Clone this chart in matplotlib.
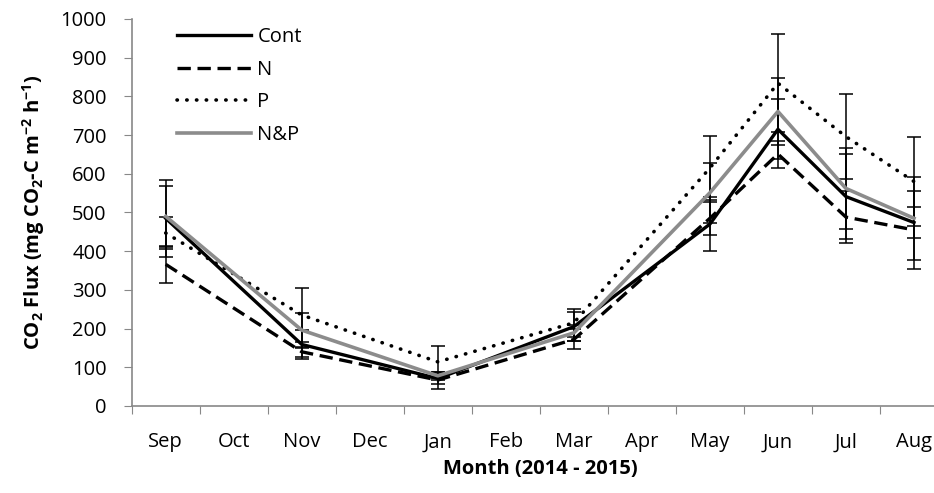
import numpy as np
import matplotlib
matplotlib.use('Agg')
import matplotlib.pyplot as plt

months = ['Sep', 'Oct', 'Nov', 'Dec', 'Jan', 'Feb', 'Mar', 'Apr', 'May', 'Jun', 'Jul', 'Aug']
# sampled months (index into months)
sampled = ['Sep', 'Nov', 'Jan', 'Mar', 'May', 'Jun', 'Jul', 'Aug']

cont = [485, 159, 71, 205, 470, 715, 541, 474]
cont_err = [100, 38, 15, 38, 70, 78, 109, 41]
n_trt = [366, 140, 67, 172, 485, 651, 488, 455]
n_err = [47, 13, 22, 26, 43, 35, 68, 100]
p_trt = [447, 235, 114, 215, 615, 834, 696, 580]
p_err = [41, 69, 42, 36, 83, 127, 109, 114]
np_trt = [490, 196, 78, 189, 551, 761, 562, 485]
np_err = [78, 45, 11, 20, 78, 86, 104, 107]

plt.rcParams['font.family'] = ['Open Sans', 'DejaVu Sans']
plt.rcParams['mathtext.fontset'] = 'custom'
plt.rcParams['mathtext.rm'] = 'Open Sans:bold'
plt.rcParams['mathtext.default'] = 'rm'

fig = plt.figure(figsize=(9.34, 4.93), dpi=100)
ax = fig.add_axes([0.141, 0.1765, 0.874, 0.785])

x = np.array([months.index(m) for m in sampled])

series = [
    ('Cont', cont, cont_err, dict(color='black', ls='-', lw=2.4)),
    ('N', n_trt, n_err, dict(color='black', ls=(0, (4, 2)), lw=2.4)),
    ('P', p_trt, p_err, dict(color='black', ls=(0, (0.1, 2.6)), lw=2.6,
                              dash_capstyle='round')),
    ('N&P', np_trt, np_err, dict(color='#8c8c8c', ls='-', lw=2.6)),
]

for name, y, e, st in series:
    ax.errorbar(x, y, yerr=e, fmt='none', ecolor='black', elinewidth=1.1,
                capsize=5, capthick=1.1, zorder=2)
for name, y, e, st in series:
    ax.plot(x, y, label=name, zorder=3, **st)

ax.set_xlim(-0.5, 11.5)
ax.set_ylim(0, 1000)
ax.set_yticks(np.arange(0, 1001, 100))
ax.set_xticks(np.arange(-0.5, 12, 1))
ax.set_xticklabels([])
ax.set_xticks(np.arange(12), minor=True)
ax.set_xticklabels(months, minor=True)
ax.tick_params(axis='x', which='minor', length=0, pad=19, labelsize=14.5)
ax.tick_params(axis='x', which='major', length=6, color='#888888')
ax.tick_params(axis='y', length=6, color='#888888', labelsize=14.5, pad=12)

for s in ['top', 'right']:
    ax.spines[s].set_visible(False)
for s in ['left', 'bottom']:
    ax.spines[s].set_color('#888888')
    ax.spines[s].set_linewidth(1.2)

ax.set_xlabel('Month (2014 - 2015)', fontsize=14.5, fontweight='bold', labelpad=5)
ax.set_ylabel(r'CO$_2$ Flux (mg CO$_2$-C m$^{-2}$ h$^{-1}$)', fontsize=14.5,
              fontweight='bold', labelpad=10)

ax.legend(loc='upper left', bbox_to_anchor=(0.033, 1.025), frameon=False,
          fontsize=14.5, handlelength=3.7, handletextpad=0.3, labelspacing=0.62)

fig.savefig('out.png', dpi=100)
